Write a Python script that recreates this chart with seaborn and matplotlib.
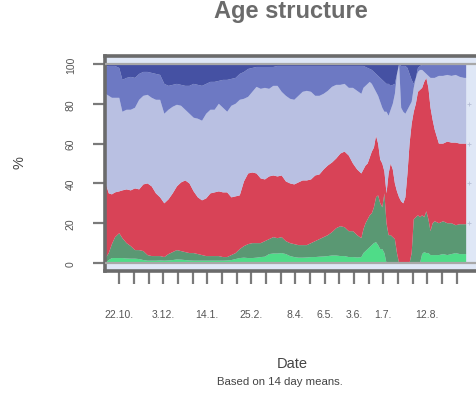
import numpy as np
import pandas as pd
import matplotlib
matplotlib.use("Agg")
import matplotlib.pyplot as plt
import matplotlib.transforms as mtransforms
import seaborn as sns

# ---------------- data ----------------
# days since 22.10.2020
days = [-13, -10, -7, -4, 0, 3, 7, 11, 15, 19, 23, 27, 31, 35, 39, 43, 47, 51, 55, 59,
        63, 67, 71, 75, 79, 83, 87, 91, 95, 99, 103, 107, 111, 115, 119, 123, 127, 131,
        135, 139, 143, 147, 151, 155, 159, 163, 167, 171, 175, 179, 183, 187, 191, 195,
        199, 203, 207, 211, 215, 219, 223, 227, 231,
        233, 235, 237, 239, 241, 243, 245, 247, 249, 251, 253, 255, 257, 259, 261, 263,
        265, 267, 269, 271, 273, 275, 277, 279, 281, 283, 285, 287, 289, 291, 293, 295,
        297, 299, 301, 305, 309, 313, 317, 321, 325, 329, 331]

# cumulative shares (%) from the youngest group upwards
cum_group1 = [0.3, 1.5, 2.5, 2.5, 2.5, 2.5, 2.3, 2.2, 2.2, 2.0, 1.5, 1.2, 1.2, 1.2, 1.3, 1.2,
              1.3, 1.5, 1.8, 1.7, 1.5, 1.3, 1.2, 1.2, 1.2, 1.2, 1.2, 1.2, 1.2, 1.2, 1.3, 1.5,
              2.0, 2.5, 2.7, 2.5, 2.5, 2.7, 3.0, 3.2, 4.5, 4.8, 4.8, 5.0, 4.5, 3.5, 3.0, 2.7,
              2.7, 2.8, 3.0, 3.0, 3.2, 3.3, 3.5, 3.8, 3.8, 3.5, 3.5, 3.0, 3.0, 2.8, 3.0,
              5, 6, 7, 8, 9, 10, 10.5, 9, 7, 7, 5, 0, 0, 0, 0, 0,
              0, 0, 0, 0, 0, 0, 0, 0, 0, 0, 0, 0, 4.5, 5.5, 5, 5,
              4, 4, 4, 4, 4.5, 4, 4.5, 5, 4.5, 4.5, 4.5]

cum_group2 = [2.5, 5, 9.5, 13, 15, 12.5, 10, 8.5, 6.5, 6.5, 6, 4, 3.5, 3.5, 3.5, 3,
              4.5, 5.5, 6.5, 6, 5.5, 5, 5, 4.5, 4, 3.5, 3.5, 3.5, 3.5, 3, 3, 4,
              5, 7, 8.5, 9.5, 10, 10, 10, 11, 12, 13, 12.5, 13, 11, 10, 9.5, 9,
              9, 9, 10, 11, 12, 13, 14, 15.5, 17.5, 18.5, 18, 16, 16, 14, 12.5,
              17, 20, 22, 24, 25, 28, 33, 34, 30, 28, 35, 20, 14, 14, 13, 12,
              5, 0, 0, 0, 0, 0, 0, 5, 22, 23, 24, 23, 24, 23, 26, 22,
              16, 20, 21, 20, 21, 20, 20, 19, 19.5, 19.5, 19.5]

cum_group3 = [40, 35, 34.5, 35.5, 36, 36.5, 37, 36.5, 37.5, 37, 39.5, 40, 38.5, 35, 33, 30,
              32, 35, 38.5, 40.5, 41.5, 40, 36, 33, 31.5, 32.5, 35, 35.5, 36, 35.5, 35.5, 33,
              33.5, 34, 41, 45, 45.5, 45, 42.5, 42, 43.5, 44, 43.5, 44, 41, 40, 39.5, 40.5,
              41.5, 41.5, 42, 44, 44.5, 47, 49, 50.5, 52.5, 55, 56, 54, 50, 47, 45,
              47, 49, 50, 53, 56, 58, 64, 60, 52, 50, 46, 35, 45, 50, 47, 40,
              36, 33, 31, 30, 33, 45, 60, 70, 76, 80, 86, 87, 88, 91, 93, 88,
              78, 72, 67, 60, 60, 61, 60.5, 60.5, 60, 60, 60]

cum_group4 = [85, 84, 83, 83, 83, 76, 77, 77, 78, 82, 84, 84.5, 83, 82, 82, 75,
              77, 78.5, 79.5, 79, 77, 75, 73, 72.5, 71.5, 75, 77, 77, 80, 78, 76, 79,
              80, 82, 82.5, 83.5, 86, 88.5, 87.5, 88, 87.5, 89, 89, 86, 84, 82.5, 82, 84,
              86, 86.5, 86, 84, 84, 85, 86.5, 88.5, 89.5, 89.5, 90, 88, 88, 86.5, 85,
              88, 89, 90, 91, 90, 88, 86, 84, 81, 78, 76, 76, 74, 77, 80, 85,
              95, 100, 78, 76, 75, 77, 79, 81, 88, 93, 96, 97, 97, 96, 95, 94,
              93, 93, 93, 94, 94, 94.5, 94, 94.5, 93.5, 93, 93]

cum_group5 = [98.5, 99, 99, 99, 98, 92, 93, 93.5, 93, 95, 96, 96, 95.5, 95, 94.5, 90,
              89, 89.5, 90, 89.5, 89, 89, 90, 89.5, 89, 90, 91, 91, 91.5, 92, 92, 92.5,
              93, 95, 96, 97.5, 98, 98.5, 98.5, 98.5, 98.5, 98.5, 99, 99, 99, 99, 99, 99,
              99, 99, 99, 99, 99, 99, 99, 99, 99, 99, 99, 99, 99, 99, 99,
              99, 98.5, 98, 97.5, 97, 96, 95, 94, 93, 92, 91, 90, 90, 89, 89.5, 90,
              95, 100, 99, 99, 99, 98, 95, 92, 90, 93, 98, 99, 99.5, 99.5, 99.5, 99.5,
              99.5, 99.5, 99.5, 99.5, 99.5, 99.5, 99.5, 99.5, 99.5, 99.5, 99.5]

cum_total = [100] * len(days)

tick_labels = ["22.10.", "", "", "3.12.", "", "", "14.1.", "", "", "25.2.", "", "",
               "8.4.", "", "6.5.", "", "3.6.", "", "1.7.", "", "", "12.8.", "", ""]
y_ticks = [0, 20, 40, 60, 80, 100]

colors = ["#4fdc88", "#5a9873", "#d84357", "#b9c0e2", "#6d79c3", "#4551a3"]

# ---------------- plot ----------------
sns.set_theme(style="white")
plt.rcParams["font.family"] = ["Liberation Sans", "DejaVu Sans"]

fig = plt.figure(figsize=(4.76, 4.02), dpi=100)
ax = fig.add_axes([105 / 476, 130 / 402, 373 / 476, 215 / 402])
ax.set_facecolor("#dfe7f6")

df = pd.DataFrame({"day": days, "g1": cum_group1, "g2": cum_group2, "g3": cum_group3,
                   "g4": cum_group4, "g5": cum_group5, "g6": cum_total})
bounds = [np.zeros(len(df))] + [df[c].values for c in ["g1", "g2", "g3", "g4", "g5", "g6"]]
for i in range(6):
    ax.fill_between(df["day"], bounds[i], bounds[i + 1], color=colors[i], lw=0,
                    edgecolor="none", zorder=2)

ax.axhline(0, color="#a8a8a8", lw=1.6, zorder=3)
ax.axhline(100, color="#a8a8a8", lw=1.6, zorder=3)

ax.set_xlim(-13.6, 342.3)
ax.set_ylim(-4, 104)

ax.set_xticks(np.arange(0, 14 * len(tick_labels), 14))
ax.set_xticklabels(tick_labels)
ax.set_yticks(y_ticks)
ax.set_yticklabels([str(v) for v in y_ticks])

ax.tick_params(axis="x", bottom=True, length=9.5, width=1.6, color="#7a7a7a",
               pad=18, labelsize=7.5, labelcolor="#555555")
ax.tick_params(axis="y", left=True, length=9, width=1.6, color="#7a7a7a",
               pad=12, labelsize=7.5, labelcolor="#555555", labelrotation=90)
for lab in ax.get_yticklabels():
    lab.set_verticalalignment("center")

for side in ["left", "top", "bottom"]:
    ax.spines[side].set_visible(True)
    ax.spines[side].set_color("#6b6b6b")
    ax.spines[side].set_linewidth(2.6)
ax.spines["right"].set_visible(False)
ax.grid(False)

trans = mtransforms.blended_transform_factory(ax.transAxes, ax.transData)
ax.plot([0.976] * 4, [20, 40, 60, 80], ls="none", marker="+", ms=3.5, mew=0.6,
        color="#b7bfd6", transform=trans, zorder=4, clip_on=False)

fig.text(290.8 / 476, 1 - 18 / 402, "Age structure", ha="center", va="baseline",
         fontsize=17, fontweight="bold", color="#6b6b6b")
fig.text(292.5 / 476, 1 - 364 / 402, "Date", ha="center", va="center",
         fontsize=10.5, color="#444444")
fig.text(280 / 476, 1 - 382 / 402, "Based on 14 day means.", ha="center", va="center",
         fontsize=8.2, color="#444444")
fig.text(19 / 476, 1 - 163 / 402, "%", ha="center", va="center", rotation=90,
         fontsize=10.5, color="#444444")

fig.savefig("out.png", dpi=100)
